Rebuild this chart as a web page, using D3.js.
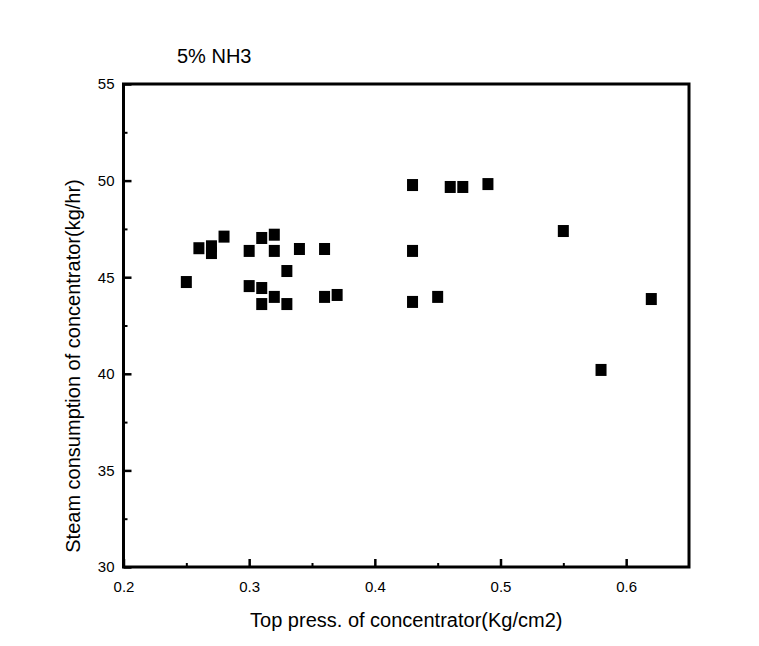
<!DOCTYPE html>
<html>
<head>
<meta charset="utf-8">
<script src="https://cdn.jsdelivr.net/npm/d3@7"></script>
<style>
body { margin: 0; background: #fff; }
text { font-family: Arial, "Liberation Sans", sans-serif; fill: #000; }
</style>
</head>
<body>
<div id="chart"></div>
<script>
// data
var pressure = [0.25, 0.26, 0.27, 0.27, 0.28, 0.30, 0.31, 0.32, 0.32, 0.34, 0.36, 0.33, 0.30, 0.31, 0.32, 0.31, 0.33, 0.36, 0.37,
	0.43, 0.46, 0.47, 0.49, 0.43, 0.43, 0.45, 0.55, 0.62, 0.58];
var steam = [44.75, 46.5, 46.6, 46.25, 47.1, 46.36, 47.03, 47.2, 46.36, 46.46, 46.46, 45.32, 44.54, 44.44, 43.98, 43.61, 43.61, 43.98, 44.08,
	49.77, 49.67, 49.67, 49.82, 46.36, 43.72, 43.98, 47.39, 43.87, 40.2];
var xTicks = [0.2, 0.3, 0.4, 0.5, 0.6];
var xMinor = [0.25, 0.35, 0.45, 0.55];
var yTicks = [30, 35, 40, 45, 50, 55];
var yMinor = [32.5, 37.5, 42.5, 47.5, 52.5];

var width = 759, height = 646;
var margin = {left: 123.5, right: 70, top: 84, bottom: 79};

var x_scale = d3.scaleLinear()
	.domain([0.2, 0.65])
	.range([margin.left, width - margin.right]);
var y_scale = d3.scaleLinear()
	.domain([30, 55])
	.range([height - margin.bottom, margin.top]);

var svg = d3.select("#chart").append("svg")
	.attr("width", width)
	.attr("height", height);

// minor ticks first (short, inward)
svg.append("g")
	.attr("transform", "translate(0," + (height - margin.bottom) + ")")
	.call(d3.axisBottom(x_scale).tickValues(xMinor).tickSize(-4).tickFormat(""))
	.call(function(g) { g.select(".domain").remove(); })
	.selectAll(".tick line").attr("stroke-width", 2);
svg.append("g")
	.attr("transform", "translate(" + margin.left + ",0)")
	.call(d3.axisLeft(y_scale).tickValues(yMinor).tickSize(-4).tickFormat(""))
	.call(function(g) { g.select(".domain").remove(); })
	.selectAll(".tick line").attr("stroke-width", 2);

var xAxis = svg.append("g")
	.attr("transform", "translate(0," + (height - margin.bottom) + ")")
	.call(d3.axisBottom(x_scale).tickValues(xTicks).tickSizeInner(-8).tickSizeOuter(0).tickPadding(14).tickFormat(d3.format(".1f")));
xAxis.select(".domain").remove();
xAxis.selectAll(".tick line").attr("stroke-width", 2.5);
xAxis.selectAll("text").attr("font-size", 15).attr("font-family", "Arial, 'Liberation Sans', sans-serif");

var yAxis = svg.append("g")
	.attr("transform", "translate(" + margin.left + ",0)")
	.call(d3.axisLeft(y_scale).tickValues(yTicks).tickSizeInner(-8).tickSizeOuter(0).tickPadding(9));
yAxis.select(".domain").remove();
yAxis.selectAll(".tick line").attr("stroke-width", 2.5);
yAxis.selectAll("text").attr("font-size", 15).attr("font-family", "Arial, 'Liberation Sans', sans-serif");

// frame
svg.append("rect")
	.attr("x", x_scale(0.2))
	.attr("y", y_scale(55))
	.attr("width", x_scale(0.65) - x_scale(0.2))
	.attr("height", y_scale(30) - y_scale(55))
	.attr("fill", "none")
	.attr("stroke", "#000")
	.attr("stroke-width", 3);

// points
var size = 11;
svg.selectAll("rect.pt")
	.data(pressure)
	.enter()
	.append("rect")
	.attr("class", "pt")
	.attr("x", function(d) { return x_scale(d) - size / 2; })
	.attr("y", function(d, i) { return y_scale(steam[i]) - size / 2 - 0.5; })
	.attr("width", size)
	.attr("height", size + 1)
	.attr("fill", "#000");

// labels
svg.append("text")
	.attr("x", 177)
	.attr("y", 63)
	.attr("font-size", 20)
	.text("5% NH3");

svg.append("text")
	.attr("x", (x_scale(0.2) + x_scale(0.65)) / 2)
	.attr("y", 627)
	.attr("text-anchor", "middle")
	.attr("font-size", 20)
	.text("Top press. of concentrator(Kg/cm2)");

svg.append("text")
	.attr("transform", "translate(80," + 366 + ") rotate(-90)")
	.attr("text-anchor", "middle")
	.attr("font-size", 20)
	.text("Steam consumption of concentrator(kg/hr)");
</script>
</body>
</html>
